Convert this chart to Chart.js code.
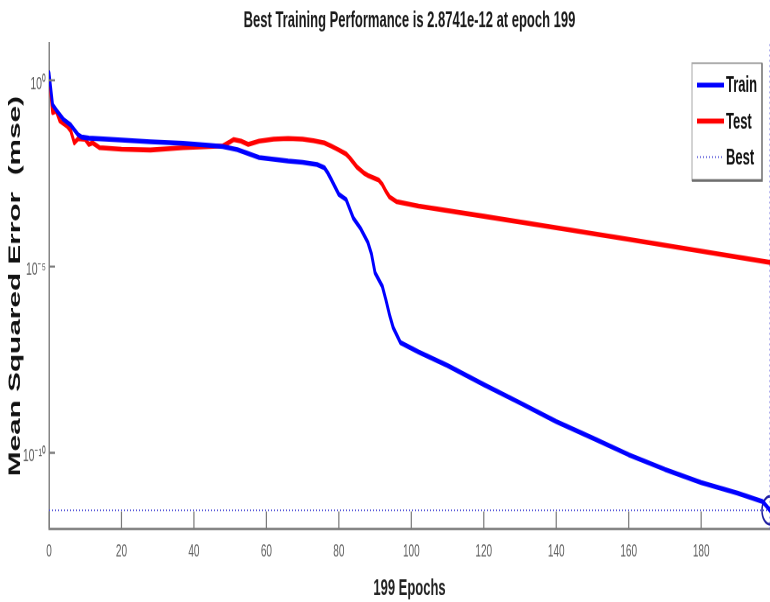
<!DOCTYPE html>
<html>
<head>
<meta charset="utf-8">
<script src="https://cdn.jsdelivr.net/npm/chart.js@4.4.1/dist/chart.umd.min.js"></script>
<style>
  html, body { margin: 0; padding: 0; background: #fff; overflow: hidden; }
  /* the figure is drawn short and wide, then shown stretched to full height */
  #perfChart { display: block; width: 770px !important; height: 602px !important; }
</style>
</head>
<body>
<canvas id="perfChart" width="770" height="344" style="width:770px;height:602px"></canvas>
<script>
// --- training record (mse per epoch) ---
const trainEpochs = [0, 1, 2, 4, 6, 8, 9, 11, 20, 28, 37, 44, 48, 52, 56, 58, 62, 66, 70, 74,
  76, 77, 78, 80, 82, 84, 86, 88, 89, 90, 92, 93, 94, 95, 97, 102, 110, 120, 130, 140,
  150, 160, 170, 180, 190, 197, 199];
const trainMse = [1.6, 0.22, 0.16, 0.089, 0.063, 0.035, 0.030, 0.028, 0.025, 0.0224, 0.0204,
  0.018, 0.0166, 0.0138, 0.010, 0.0085, 0.0076, 0.0068, 0.0063, 0.0055,
  0.0045, 0.0032, 0.0021, 8.7e-4, 6.3e-4, 2.0e-4, 1.05e-4, 4.5e-5, 2.2e-5, 6.8e-6,
  2.95e-6, 1.26e-6, 5.0e-7, 2.3e-7, 9.1e-8, 5.1e-8, 2.2e-8, 6.8e-9, 2.2e-9, 6.9e-10,
  2.5e-10, 8.9e-11, 3.6e-11, 1.6e-11, 8.3e-12, 4.9e-12, 2.8741e-12];

const testEpochs = [0, 1, 2, 3, 5, 6, 7, 8, 10, 11, 12, 14, 20, 28, 37, 44, 48, 50, 51, 53,
  55, 58, 62, 66, 70, 73, 76, 78, 80, 82, 83, 85, 87, 88, 91, 92, 93, 94, 96, 102,
  120, 140, 160, 180, 199];
const testMse = [1.45, 0.135, 0.15, 0.081, 0.059, 0.044, 0.021, 0.027, 0.026, 0.019, 0.021,
  0.0155, 0.0141, 0.0135, 0.0155, 0.0166, 0.0174, 0.0224, 0.0257, 0.0234,
  0.019, 0.0234, 0.0263, 0.0275, 0.0263, 0.024, 0.0209, 0.017, 0.0135, 0.0105,
  0.0083, 0.0047, 0.0032, 0.0028, 0.0021, 0.0016, 0.00105, 7.4e-4, 5.5e-4, 4.2e-4,
  2.24e-4, 1.1e-4, 5.4e-5, 2.6e-5, 1.29e-5];

const bestEpoch = 199;
const bestMse = 2.8741e-12;

// axis ranges and ticks
const epochRange = [0, 199];
const mseRange = [9e-13, 10];
const epochStep = 20;
const mseTicks = [1e-10, 1e-5, 1];
const mseTickLabels = ['10\u207B\u00B9\u2070', '10\u207B\u2075', '10\u2070'];

Chart.defaults.font.family = "'Liberation Sans', Arial, sans-serif";

const toPoints = (xs, ys) => xs.map((x, i) => ({ x: x, y: ys[i] }));

// MATLAB style ticks pointing into the plot
const inwardTicks = {
  id: 'inwardTicks',
  afterDatasetsDraw(chart) {
    const { ctx, chartArea: ca, scales: { x, y } } = chart;
    ctx.save();
    ctx.strokeStyle = '#7a7a7a';
    ctx.lineWidth = 1.2;
    ctx.beginPath();
    x.ticks.forEach(t => {
      const px = x.getPixelForValue(t.value);
      ctx.moveTo(px, ca.bottom);
      ctx.lineTo(px, ca.bottom - 10);
    });
    y.ticks.forEach(t => {
      const py = y.getPixelForValue(t.value);
      ctx.moveTo(ca.left, py);
      ctx.lineTo(ca.left + 6, py);
    });
    ctx.stroke();
    ctx.restore();
  }
};

// boxed legend in the top right corner of the axes
const boxLegend = {
  id: 'boxLegend',
  afterDraw(chart) {
    const { ctx, chartArea: ca } = chart;
    const left = ca.right - 78, top = ca.top + 11.5, w = 70, h = 67;
    ctx.save();
    ctx.fillStyle = '#fff';
    ctx.fillRect(left, top, w, h);
    ctx.strokeStyle = '#a8a8a8';
    ctx.lineWidth = 1;
    ctx.strokeRect(left, top, w, h);
    // darker shadow edge bottom / right
    ctx.strokeStyle = '#6e6e6e';
    ctx.lineWidth = 1.5;
    ctx.beginPath();
    ctx.moveTo(left, top + h);
    ctx.lineTo(left + w, top + h);
    ctx.lineTo(left + w, top);
    ctx.stroke();

    ctx.font = "bold 13px 'Liberation Sans', Arial, sans-serif";
    ctx.textBaseline = 'middle';
    ctx.fillStyle = '#111';
    chart.data.datasets.filter(d => d.inLegend).forEach((d, i) => {
      const cy = top + 12.5 + i * 20.6;
      ctx.strokeStyle = d.borderColor;
      ctx.lineWidth = d.borderWidth;
      ctx.setLineDash(d.borderDash || []);
      ctx.beginPath();
      ctx.moveTo(left + 5, cy);
      ctx.lineTo(left + 32, cy);
      ctx.stroke();
      ctx.setLineDash([]);
      ctx.fillText(d.label, left + 34, cy + 0.5);
    });
    ctx.restore();
  }
};

const ctx = document.getElementById('perfChart').getContext('2d');
new Chart(ctx, {
  type: 'line',
  data: {
    datasets: [
      {
        label: 'Train', inLegend: true,
        data: toPoints(trainEpochs, trainMse),
        borderColor: '#0000ff', borderWidth: 2.8,
        pointRadius: 0, tension: 0, borderJoinStyle: 'round', borderCapStyle: 'round'
      },
      {
        label: 'Test', inLegend: true,
        data: toPoints(testEpochs, testMse),
        borderColor: '#ff0000', borderWidth: 2.8,
        pointRadius: 0, tension: 0, borderJoinStyle: 'round', borderCapStyle: 'round'
      },
      {
        label: 'Best', inLegend: true,
        data: toPoints(epochRange, [bestMse, bestMse]),
        borderColor: '#5454d8', borderWidth: 1, borderDash: [1, 2],
        pointRadius: 0
      },
      {
        label: 'Best epoch',
        data: toPoints([bestEpoch, bestEpoch], mseRange),
        borderColor: '#5454d8', borderWidth: 1, borderDash: [1, 2],
        pointRadius: 0
      },
      {
        label: 'Best point',
        data: toPoints([bestEpoch], [bestMse]),
        showLine: false,
        pointStyle: 'circle', pointRadius: 8,
        pointBorderColor: '#1c1ca0', pointBorderWidth: 1.5,
        pointBackgroundColor: 'rgba(0,0,0,0)',
        clip: false
      }
    ]
  },
  options: {
    responsive: false,
    animation: false,
    devicePixelRatio: 2,
    layout: { padding: 0, autoPadding: false },
    scales: {
      x: {
        type: 'linear',
        min: epochRange[0], max: epochRange[1],
        grid: { display: false, drawTicks: false },
        border: { display: true, color: '#858585', width: 1.5 },
        ticks: {
          stepSize: epochStep, includeBounds: false, autoSkip: false, maxRotation: 0,
          padding: 7, color: '#5e5e5e', font: { size: 10 }
        },
        title: {
          display: true, text: bestEpoch + ' Epochs', color: '#222',
          font: { size: 13, weight: 'bold' }, padding: { top: 0, bottom: 0 }
        },
        afterFit: s => { s.height = 41.7; }
      },
      y: {
        type: 'logarithmic',
        min: mseRange[0], max: mseRange[1],
        grid: { display: false, drawTicks: false },
        border: { display: true, color: '#858585', width: 1.5 },
        afterBuildTicks: s => { s.ticks = mseTicks.map(v => ({ value: v })); },
        ticks: {
          callback: (v, i) => mseTickLabels[i],
          padding: 3, labelOffset: 2, color: '#5e5e5e', font: { size: 10.5 }
        },
        title: {
          display: true, text: 'Mean Squared Error  (mse)', color: '#111',
          font: { size: 17, weight: 'bold' }, padding: { top: 5, bottom: 0 }
        },
        afterFit: s => { s.width = 49; }
      }
    },
    plugins: {
      legend: { display: false },
      tooltip: { enabled: false },
      title: {
        display: true, fullSize: false,
        text: 'Best Training Performance is ' + bestMse + ' at epoch ' + bestEpoch,
        color: '#1a1a1a', font: { size: 13, weight: 'bold' },
        padding: { top: 4.2, bottom: 4.8 }
      }
    }
  },
  plugins: [inwardTicks, boxLegend]
});
</script>
</body>
</html>
